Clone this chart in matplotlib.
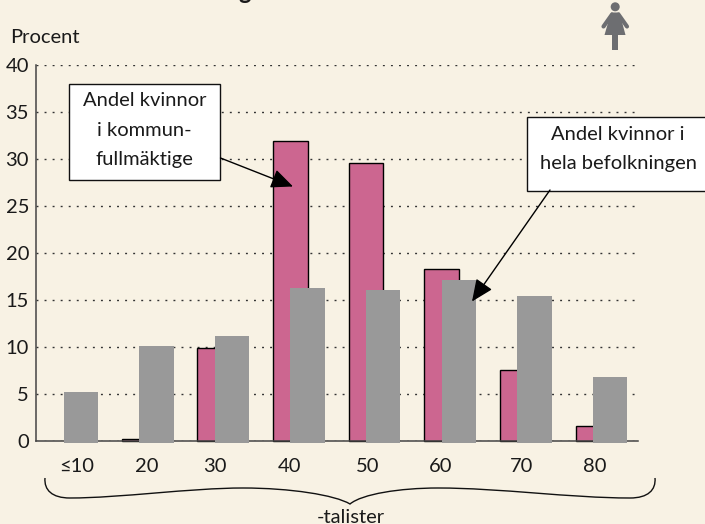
"""Women in municipal councils vs. whole population, by age group (bars + callouts)."""
import matplotlib
matplotlib.use("Agg")
import matplotlib.pyplot as plt
from matplotlib.patches import Circle, PathPatch, Polygon, Rectangle
from matplotlib.path import Path

categories = ["≤10", "20", "30", "40", "50", "60", "70", "80"]
council = [0.0, 0.2, 9.9, 31.9, 29.6, 18.3, 7.6, 1.55]
population = [5.2, 10.1, 11.2, 16.3, 16.05, 17.1, 15.4, 6.8]
yticks = [0, 5, 10, 15, 20, 25, 30, 35, 40]

W, H = 705, 524
BG = "#F8F2E4"
PINK = "#CC6690"
GREY = "#999999"
ICON = "#6D6E71"
INK = "#1A1A1A"
FS = 14.5

plt.rcParams["font.family"] = ["Lato", "DejaVu Sans"]

fig = plt.figure(figsize=(W / 100, H / 100), dpi=100, facecolor=BG)
ax = fig.add_axes([36 / W, 1 - 441 / H, (638 - 36) / W, (441 - 65) / H], facecolor=BG)

# one category = 75.6 px, first grey bar centred on 80.8 px
STEP = 75.6
X0 = 80.8
ax.set_xlim((36 - X0) / STEP, (638 - X0) / STEP)
ax.set_ylim(0, 40)
idx = list(range(len(categories)))
BW = 34.5 / STEP

ax.yaxis.grid(True, color="#333333", lw=1, linestyle=(0, (1.4, 4.4)))
ax.set_axisbelow(True)
for i, v in zip(idx, council):
    if v > 0:
        ax.bar(i - BW / 2, v, BW, color=PINK, edgecolor="black", lw=1, zorder=2, clip_on=False)
base = 0.17
ax.bar(idx, [v + base for v in population], BW, bottom=-base, color=GREY, zorder=3, clip_on=False)

for s in ("top", "right"):
    ax.spines[s].set_visible(False)
for s in ("left", "bottom"):
    ax.spines[s].set_color("#444444")
    ax.spines[s].set_linewidth(1.1)

ax.set_yticks(yticks)
ax.tick_params(axis="y", length=0, pad=5, labelsize=FS, labelcolor=INK)
label_px = [77, 147, 214.5, 290, 368, 441, 522, 595]
ax.set_xticks([(p - X0) / STEP for p in label_px], categories)
ax.tick_params(axis="x", length=0, pad=12, labelsize=FS, labelcolor=INK)

# overlay in image pixels for callouts, brace and icon
ov = fig.add_axes([0, 0, 1, 1], facecolor="none")
ov.set_xlim(0, W)
ov.set_ylim(H, 0)
ov.axis("off")

ov.text(10, 43, "Procent", fontsize=FS, color=INK, va="baseline")
ov.text(351, 523, "-talister", fontsize=FS, color=INK, ha="center", va="baseline")
ov.text(245, -1, "g", fontsize=17, fontweight="bold", color=INK, ha="center", va="baseline")

for (x0, y0, x1, y1) in [(69, 84, 220, 180), (527, 117, 712, 190.5)]:
    ov.add_patch(Rectangle((x0, y0), x1 - x0, y1 - y0, fc="white", ec="#111111", lw=1, zorder=4))
for txt, x, y in [("Andel kvinnor", 144.5, 101), ("i kommun-", 144.5, 130), ("fullmäktige", 144.5, 159),
                  ("Andel kvinnor i", 618, 135), ("hela befolkningen", 618, 164)]:
    ov.text(x, y, txt, fontsize=FS, color=INK, ha="center", va="center", zorder=5)

for start, tip in [((220.5, 158), (293, 186.5)), ((550, 190), (472, 301.5))]:
    ov.annotate("", xy=tip, xytext=start, zorder=5,
                arrowprops=dict(arrowstyle="-|>,head_length=0.75,head_width=0.33", mutation_scale=18,
                                color="black", lw=1, shrinkA=0, shrinkB=0))

brace = [(45, 478), (44, 490), (52, 498), (70, 498), (120, 498), (190, 488), (243, 488),
         (290, 488), (335, 495), (350, 504), (362, 494), (400, 488), (438, 488),
         (500, 488), (570, 498), (630, 498), (648, 498), (656, 490), (655, 478)]
codes = [Path.MOVETO] + [Path.CURVE4] * (len(brace) - 1)
ov.add_patch(PathPatch(Path(brace, codes), fc="none", ec="#111111", lw=1))

# woman icon
ov.add_patch(Circle((615.2, 6.8), 4.5, fc=ICON, ec="none"))
ov.add_patch(Polygon([(611, 12.5), (619.5, 12.5), (625.5, 35), (604.5, 35)], fc=ICON, ec="none"))
ov.add_patch(Rectangle((612.3, 34), 6, 15.5, fc=ICON, ec="none"))
ov.plot([612, 603.5], [14.5, 26.5], color=ICON, lw=3, solid_capstyle="round")
ov.plot([618.5, 627], [14.5, 26.5], color=ICON, lw=3, solid_capstyle="round")

fig.savefig("out.png", dpi=100, facecolor=BG)
